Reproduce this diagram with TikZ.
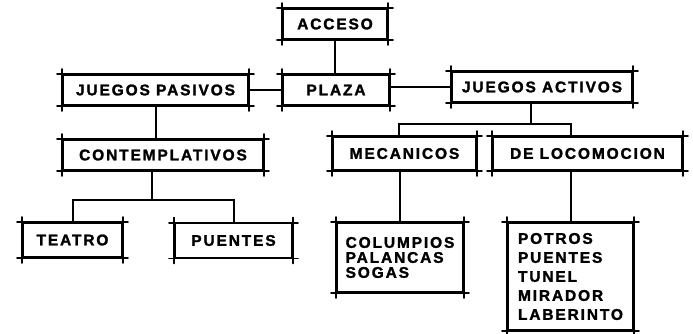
\documentclass[tikz,border=0pt]{standalone}
\usepackage{fontspec}
\usepackage{tikz}
\newfontfamily\rotulo[LetterSpace=12, BoldFeatures={FakeBold=1.6}]{Liberation Sans}
\tikzset{
  borde/.style={line width=1.9pt, line cap=round},
  linea/.style={line width=2pt},
  caja/.style={draw, line width=1.9pt, minimum height=30pt, inner sep=3pt,
    font=\rotulo\bfseries\fontsize{15.5}{17}\selectfont, align=left,
    append after command={\pgfextra{\let\cajanodo\tikzlastnode}
      ([xshift=-5pt]\cajanodo.north west) edge[borde] ([xshift=5pt]\cajanodo.north east)
      ([xshift=-5pt]\cajanodo.south west) edge[borde] ([xshift=5pt]\cajanodo.south east)
      ([yshift=5pt]\cajanodo.north west) edge[borde] ([yshift=-5pt]\cajanodo.south west)
      ([yshift=5pt]\cajanodo.north east) edge[borde] ([yshift=-5pt]\cajanodo.south east)}},
}

\begin{document}
\begin{tikzpicture}[x=1pt,y=-1pt]
  \useasboundingbox (0,0) rectangle (693,333);
  \node[caja, minimum width=104pt] (acceso) at (335,24) {ACCESO};
  \node[caja, minimum width=106pt] (plaza) at (336,90) {PLAZA};
  \node[caja, minimum width=185pt] (pasivos) at (155.5,90) {JUEGOS PASIVOS};
  \node[caja, minimum width=180pt] (activos) at (542,87) {JUEGOS ACTIVOS};
  \node[caja, minimum width=200pt] (contemplativos) at (163,155) {CONTEMPLATIVOS};
  \node[caja, minimum width=143pt, minimum height=33pt] (mecanicos) at (404.5,153.5) {MECANICOS};
  \node[caja, minimum width=189pt, minimum height=33pt] (locomocion) at (587.5,153.5) {DE LOCOMOCION};
  \node[caja, minimum width=99pt, minimum height=34pt] (teatro) at (72.5,240) {TEATRO};
  \node[caja, minimum width=117pt, minimum height=34pt] (puentes) at (233.5,240.5) {PUENTES};
  \node[caja, minimum width=126pt, minimum height=69pt] (columpios) at (400,257.5) {COLUMPIOS\\[-2pt]PALANCAS\\[-2pt]SOGAS};
  \node[caja, minimum width=125pt, minimum height=107pt] (potros) at (570.5,276.5) {POTROS\\[2pt]PUENTES\\[2pt]TUNEL\\[2pt]MIRADOR\\[2pt]LABERINTO};
  % ramas
  \coordinate (ramaA) at (531,124);
  \coordinate (ramaC) at (152,200);
  \draw[linea] (acceso.south) -- (acceso.south |- plaza.north);
  \draw[linea] (pasivos) -- (plaza);
  \draw[linea] (plaza.east |- activos) -- (activos.west);
  \draw[linea] (pasivos.south) -- (pasivos.south |- contemplativos.north);
  \draw[linea] (ramaA |- activos.south) -- (ramaA);
  \draw[linea] ([xshift=-6pt]mecanicos.north) |- (ramaA) -| ([xshift=-17pt]locomocion.north);
  \draw[linea] (mecanicos.south -| columpios) -- (columpios.north);
  \draw[linea] (locomocion.south -| potros) -- (potros.north);
  \draw[linea] (ramaC |- contemplativos.south) -- (ramaC);
  \draw[linea] (teatro.north) |- (ramaC) -| (puentes.north);
\end{tikzpicture}
\end{document}
